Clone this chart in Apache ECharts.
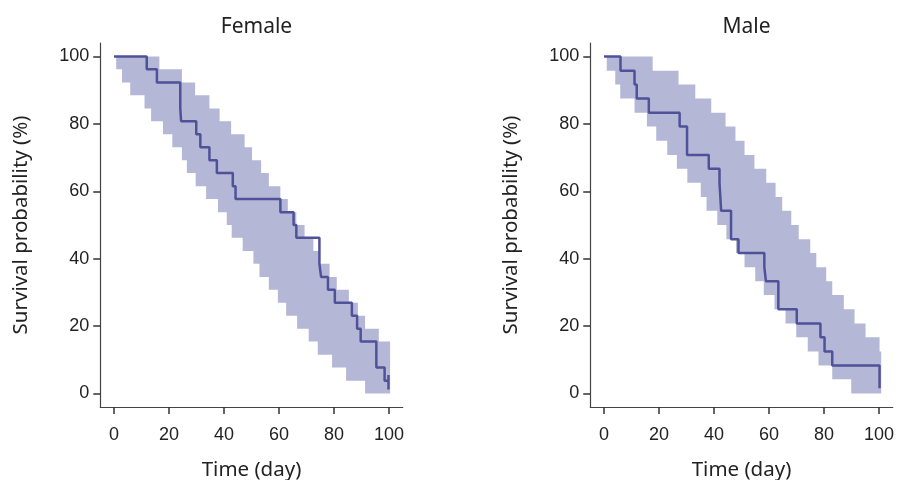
<!DOCTYPE html>
<html>
<head>
<meta charset="UTF-8" />
<title>Survival</title>
<script src="https://cdn.jsdelivr.net/npm/echarts@6/dist/echarts.min.js"></script>
<style>
  body { margin: 0; background: #fff; }
  #chart { width: 899px; height: 480px; }
</style>
</head>
<body>
<div id="chart"></div>
<script>
// tick labels for both axes
var tickVals = [0, 20, 40, 60, 80, 100];
var panelNames = ['Female', 'Male'];

// Kaplan-Meier curve, female (time in days, survival %)
var femaleTime = [0, 11.9, 15.6, 24.1, 24.4, 29.9, 31.4, 34.7, 37.4, 43.2, 44.2, 60.5, 65.3, 66.3, 74.7, 75.3, 77.8, 80.3, 86.5, 88.4, 89.7, 95.4, 98.4, 99.8, 99.8, 99.8];
var femaleSurv = [100, 96.2, 92.3, 84.6, 80.8, 76.9, 73.1, 69.2, 65.4, 61.5, 57.7, 53.8, 50, 46.2, 38.5, 34.6, 30.8, 26.9, 23.1, 19.2, 15.4, 7.7, 3.8, 3.8, 5.5, 1.2];
// confidence band, female (value holds from time[i] to time[i+1])
var femaleUpperTime = [0.8, 16.5, 24.7, 29.5, 34.7, 38.4, 42.6, 47.5, 50.2, 53.5, 56.3, 60.5, 63.2, 66.3, 69.3, 72.5, 74.7, 78.4, 81.0, 85.4, 88.7, 91.3, 96.3, 100.4];
var femaleUpperVal = [100, 96.2, 92.3, 88.5, 84.6, 80.8, 76.9, 73.1, 69.2, 65.4, 61.5, 57.7, 53.8, 50, 46.2, 42.3, 38.5, 34.6, 30.8, 26.9, 23.1, 19.2, 15.4, 15.4];
var femaleLowerTime = [0.8, 2.9, 5.9, 11.1, 13.5, 17.8, 21.2, 24.7, 26.5, 29.7, 33.5, 37.8, 41.0, 42.8, 46.8, 50.7, 52.9, 56.3, 59.6, 62.6, 66.6, 70.8, 74.1, 79.3, 84.4, 91.3, 100.4];
var femaleLowerVal = [96.2, 92.3, 88.5, 84.6, 80.8, 76.9, 73.1, 69.2, 65.4, 61.5, 57.7, 53.8, 50, 46.2, 42.3, 38.5, 34.6, 30.8, 26.9, 23.1, 19.2, 15.4, 11.5, 7.7, 3.8, 0, 0];

// male
var maleTime = [0, 6.0, 11.1, 11.9, 16.3, 27.5, 30.2, 38.1, 42.0, 42.6, 46.2, 48.9, 58.3, 58.9, 63.4, 70.1, 78.7, 80.2, 83.0, 100.2];
var maleSurv = [100, 95.8, 91.7, 87.5, 83.3, 79.2, 70.8, 66.7, 62.5, 54.2, 45.8, 41.7, 37.5, 33.3, 25, 20.8, 16.7, 12.5, 8.3, 1.6];
var maleUpperTime = [1.0, 17.7, 27.1, 33.2, 39.0, 44.2, 47.8, 51.1, 54.7, 59.0, 62.4, 64.8, 68.1, 70.8, 75.0, 77.2, 80.8, 83.0, 87.2, 91.1, 95.1, 100.2, 100.8];
var maleUpperVal = [100, 95.8, 91.7, 87.5, 83.3, 79.2, 75, 70.8, 66.7, 62.5, 58.3, 54.2, 50, 45.8, 41.7, 37.5, 33.3, 29.2, 25, 20.8, 16.7, 12.5, 12.5];
var maleLowerTime = [1.0, 4.1, 5.9, 11.1, 15.6, 19.0, 23.0, 26.5, 30.3, 35.2, 37.3, 41.2, 44.5, 48.0, 51.1, 55.0, 58.1, 62.0, 66.0, 69.9, 74.1, 78.0, 83.0, 89.9, 100.8];
var maleLowerVal = [95.8, 91.7, 87.5, 83.3, 79.2, 75, 70.8, 66.7, 62.5, 58.3, 54.2, 50, 45.8, 41.7, 37.5, 33.3, 29.2, 25, 20.8, 16.7, 12.5, 8.3, 4.2, 0, 0];

var lineColor = '#4f5199';
var bandColor = '#b5b7d7';
var axisColor = '#444';
var labelFont = { fontFamily: 'Liberation Sans', fontSize: 18, color: '#222' };
var nameFont = { fontFamily: 'Noto Sans', fontSize: 20.5, color: '#222' };
var xMin = -5, xMax = 105, yMin = -4, yMax = 104;

// KM step: horizontal at previous level, then drop
function stepPoints(t, s) {
    var pts = [[t[0], s[0]]];
    for (var i = 1; i < t.length; i++) {
        pts.push([t[i], s[i - 1]]);
        pts.push([t[i], s[i]]);
    }
    return pts;
}

// band outline: upper edge forward, lower edge back
function bandPolygon(ut, uv, lt, lv) {
    var pts = [];
    for (var i = 0; i < ut.length - 1; i++) {
        pts.push([ut[i], uv[i]]);
        pts.push([ut[i + 1], uv[i]]);
    }
    for (var j = lt.length - 2; j >= 0; j--) {
        pts.push([lt[j + 1], lv[j]]);
        pts.push([lt[j], lv[j]]);
    }
    return pts;
}

var bands = [
    bandPolygon(femaleUpperTime, femaleUpperVal, femaleLowerTime, femaleLowerVal),
    bandPolygon(maleUpperTime, maleUpperVal, maleLowerTime, maleLowerVal)
];
var curves = [stepPoints(femaleTime, femaleSurv), stepPoints(maleTime, maleSurv)];

// outer frame: x -5..105, y -4..104 ; inner (tick) frame: 0..100 on both
var gridLefts = [100.25, 590.25];
var gTop = 43, gW = 302.5, gH = 364;
var pxX = gW / 110, pxY = gH / 108;
var grids = [], xAxes = [], yAxes = [], series = [], titles = [];

for (var k = 0; k < 2; k++) {
    var outer = 2 * k, inner = 2 * k + 1;
    grids.push({ left: gridLefts[k], top: gTop, width: gW, height: gH, outerBoundsMode: 'none' });
    grids.push({ left: gridLefts[k] + 5 * pxX, top: gTop + 4 * pxY, width: 100 * pxX, height: 100 * pxY, outerBoundsMode: 'none' });
    titles.push({
        text: panelNames[k],
        left: gridLefts[k] + gW / 2,
        top: 12,
        textAlign: 'center',
        textStyle: { fontFamily: 'Noto Sans', fontSize: 21, fontWeight: 'normal', color: '#222' }
    });
    // axis lines + names
    xAxes.push({
        type: 'value', gridIndex: outer, min: xMin, max: xMax,
        name: 'Time (day)', nameLocation: 'middle', nameGap: 53, nameTextStyle: nameFont,
        axisLine: { show: true, onZero: false, lineStyle: { color: axisColor, width: 1.2 } },
        axisTick: { show: false }, axisLabel: { show: false }, splitLine: { show: false }
    });
    yAxes.push({
        type: 'value', gridIndex: outer, min: yMin, max: yMax,
        name: 'Survival probability (%)', nameLocation: 'middle', nameGap: 69, nameTextStyle: nameFont,
        axisLine: { show: true, onZero: false, lineStyle: { color: axisColor, width: 1.2 } },
        axisTick: { show: false }, axisLabel: { show: false }, splitLine: { show: false }
    });
    // ticks + labels, pushed out onto the axis lines
    xAxes.push({
        type: 'value', gridIndex: inner, min: tickVals[0], max: tickVals[tickVals.length - 1], interval: 20,
        offset: 4 * pxY,
        axisLine: { show: false, onZero: false },
        axisTick: { show: true, length: 7, lineStyle: { color: '#333', width: 1.5 } },
        axisLabel: Object.assign({ margin: 19 }, labelFont),
        splitLine: { show: false }
    });
    yAxes.push({
        type: 'value', gridIndex: inner, min: tickVals[0], max: tickVals[tickVals.length - 1], interval: 20,
        offset: 5 * pxX,
        axisLine: { show: false, onZero: false },
        axisTick: { show: true, length: 7, lineStyle: { color: '#333', width: 1.5 } },
        axisLabel: Object.assign({ margin: 11 }, labelFont),
        splitLine: { show: false }
    });
    (function (poly) {
        series.push({
            type: 'custom', xAxisIndex: outer, yAxisIndex: outer, silent: true, z: 1,
            data: [[0, 0]],
            renderItem: function (params, api) {
                return {
                    type: 'polygon',
                    shape: { points: poly.map(function (p) { return api.coord(p); }) },
                    style: { fill: bandColor }
                };
            }
        });
    })(bands[k]);
    series.push({
        type: 'line', xAxisIndex: outer, yAxisIndex: outer, z: 3,
        data: curves[k], showSymbol: false, silent: true,
        lineStyle: { color: lineColor, width: 2.5 }
    });
}

var myChart = echarts.init(document.getElementById('chart'), null, { renderer: 'canvas' });
myChart.setOption({
    animation: false,
    backgroundColor: '#fff',
    title: titles,
    grid: grids,
    xAxis: xAxes,
    yAxis: yAxes,
    series: series
});
</script>
</body>
</html>
